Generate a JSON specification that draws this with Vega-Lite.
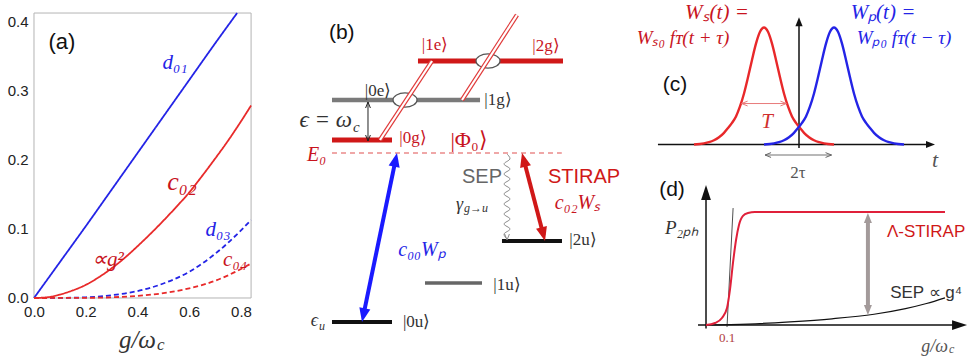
{
  "$schema": "https://vega.github.io/schema/vega-lite/v6.json",
  "width": 973,
  "height": 356,
  "autosize": {"type": "none"},
  "padding": 0,
  "background": "white",
  "config": {"view": {"stroke": null}, "axis": {"grid": false}},
  "resolve": {"scale": {"x": "independent", "y": "independent", "color": "independent", "strokeDash": "independent", "strokeWidth": "independent"}},
  "layer": [
    {
      "encoding": {
        "x": {"field": "g", "type": "quantitative", "scale": {"domain": [-0.1314, 3.629], "zero": false, "nice": false},
          "axis": {"values": [0, 0.2, 0.4, 0.6, 0.8], "format": ".1f", "offset": -58, "domain": false, "ticks": false, "labelPadding": 6, "labelFontSize": 15, "labelFont": "Liberation Sans", "labelColor": "#222", "labelFlush": false, "labelOverlap": false, "title": null}},
        "y": {"field": "v", "type": "quantitative", "scale": {"domain": [-0.08406, 0.43188], "zero": false, "nice": false},
          "axis": {"values": [0, 0.1, 0.2, 0.3, 0.4], "format": ".1f", "offset": -33, "domain": false, "ticks": false, "labelPadding": 5, "labelFontSize": 15, "labelFont": "Liberation Sans", "labelColor": "#222", "labelFlush": false, "labelOverlap": false, "title": null}}
      },
      "layer": [
        {"data": {"values": [{"g": 0, "v": 0, "g2": 0.839, "v2": 0.413}]},
         "mark": {"type": "rect", "fill": "white", "fillOpacity": 0, "stroke": "#b4b4b4", "strokeWidth": 1},
         "encoding": {"x2": {"field": "g2"}, "y2": {"field": "v2"}}},
        {"data": {"values": [
          {"s": "d01", "g": 0, "v": 0}, {"s": "d01", "g": 0.1, "v": 0.052}, {"s": "d01", "g": 0.2, "v": 0.104}, {"s": "d01", "g": 0.3, "v": 0.157}, {"s": "d01", "g": 0.4, "v": 0.21}, {"s": "d01", "g": 0.5, "v": 0.263}, {"s": "d01", "g": 0.6, "v": 0.316}, {"s": "d01", "g": 0.7, "v": 0.369}, {"s": "d01", "g": 0.785, "v": 0.413},
          {"s": "c02", "g": 0, "v": 0}, {"s": "c02", "g": 0.05, "v": 0.001}, {"s": "c02", "g": 0.1, "v": 0.005}, {"s": "c02", "g": 0.15, "v": 0.011}, {"s": "c02", "g": 0.2, "v": 0.019}, {"s": "c02", "g": 0.25, "v": 0.03}, {"s": "c02", "g": 0.3, "v": 0.043}, {"s": "c02", "g": 0.35, "v": 0.058}, {"s": "c02", "g": 0.4, "v": 0.075}, {"s": "c02", "g": 0.45, "v": 0.093}, {"s": "c02", "g": 0.5, "v": 0.112}, {"s": "c02", "g": 0.55, "v": 0.132}, {"s": "c02", "g": 0.6, "v": 0.153}, {"s": "c02", "g": 0.65, "v": 0.177}, {"s": "c02", "g": 0.7, "v": 0.202}, {"s": "c02", "g": 0.75, "v": 0.228}, {"s": "c02", "g": 0.8, "v": 0.256}, {"s": "c02", "g": 0.839, "v": 0.279},
          {"s": "d03", "g": 0, "v": 0}, {"s": "d03", "g": 0.1, "v": 0.0002}, {"s": "d03", "g": 0.2, "v": 0.001}, {"s": "d03", "g": 0.3, "v": 0.004}, {"s": "d03", "g": 0.4, "v": 0.01}, {"s": "d03", "g": 0.5, "v": 0.021}, {"s": "d03", "g": 0.6, "v": 0.038}, {"s": "d03", "g": 0.7, "v": 0.064}, {"s": "d03", "g": 0.8, "v": 0.098}, {"s": "d03", "g": 0.839, "v": 0.113},
          {"s": "c04", "g": 0, "v": 0}, {"s": "c04", "g": 0.2, "v": 0.0002}, {"s": "c04", "g": 0.3, "v": 0.001}, {"s": "c04", "g": 0.4, "v": 0.003}, {"s": "c04", "g": 0.5, "v": 0.007}, {"s": "c04", "g": 0.6, "v": 0.014}, {"s": "c04", "g": 0.7, "v": 0.025}, {"s": "c04", "g": 0.8, "v": 0.042}, {"s": "c04", "g": 0.839, "v": 0.05}
         ]},
         "mark": {"type": "line", "strokeWidth": 1.8, "interpolate": "monotone"},
         "encoding": {
           "color": {"field": "s", "type": "nominal", "scale": {"domain": ["d01", "c02", "d03", "c04"], "range": ["#2424e6", "#e82a2a", "#2424e6", "#e82a2a"]}, "legend": null},
           "strokeDash": {"field": "s", "type": "nominal", "scale": {"domain": ["d01", "c02", "d03", "c04"], "range": [[1, 0], [1, 0], [5, 3], [5, 3]]}, "legend": null}
         }},
        {"data": {"values": [{"g": 0.108, "v": 0.371, "label": "(a)"}]},
         "mark": {"type": "text", "font": "Liberation Sans", "fontSize": 22, "color": "#111", "align": "center", "baseline": "middle"},
         "encoding": {"text": {"field": "label"}}},
        {"data": {"values": [{"g": 0.545, "v": 0.341, "label": "d₀₁"}, {"g": 0.711, "v": 0.099, "label": "d₀₃"}]},
         "mark": {"type": "text", "font": "Liberation Serif", "fontStyle": "italic", "fontSize": 21, "color": "#2424e6", "align": "center", "baseline": "middle"},
         "encoding": {"text": {"field": "label"}}},
        {"data": {"values": [{"g": 0.572, "v": 0.168, "label": "c₀₂"}]},
         "mark": {"type": "text", "font": "Liberation Serif", "fontStyle": "italic", "fontSize": 26, "color": "#c8141e", "align": "center", "baseline": "middle"},
         "encoding": {"text": {"field": "label"}}},
        {"data": {"values": [{"g": 0.286, "v": 0.055, "label": "∝g²"}, {"g": 0.777, "v": 0.055, "label": "c₀₄"}]},
         "mark": {"type": "text", "font": "Liberation Serif", "fontStyle": "italic", "fontSize": 21, "color": "#c8141e", "align": "center", "baseline": "middle"},
         "encoding": {"text": {"field": "label"}}},
        {"data": {"values": [{"g": 0.4715, "v": -0.0609, "label": "g/ω"}]},
         "mark": {"type": "text", "font": "Liberation Serif", "fontStyle": "italic", "fontSize": 25, "color": "#333", "align": "right", "baseline": "middle"},
         "encoding": {"text": {"field": "label"}}},
        {"data": {"values": [{"g": 0.4754, "v": -0.0681, "label": "c"}]},
         "mark": {"type": "text", "font": "Liberation Serif", "fontStyle": "italic", "fontSize": 17, "color": "#333", "align": "left", "baseline": "middle"},
         "encoding": {"text": {"field": "label"}}}
      ]
    },
    {
      "encoding": {
        "x": {"field": "xb", "type": "quantitative", "scale": {"domain": [-5.5333, 10.6833], "zero": false, "nice": false}, "axis": null},
        "y": {"field": "yb", "type": "quantitative", "scale": {"domain": [-0.85, 8.05], "zero": false, "nice": false}, "axis": null}
      },
      "layer": [
        {"data": {"values": [
          {"xb": 0, "xb2": 1, "yb": 0, "k": "black"},
          {"xb": 1.55, "xb2": 2.5, "yb": 0.975, "k": "thin"},
          {"xb": 2.833, "xb2": 3.833, "yb": 2.025, "k": "black"},
          {"xb": 0, "xb2": 1, "yb": 4.55, "k": "red"},
          {"xb": 0, "xb2": 2.467, "yb": 5.55, "k": "gray"},
          {"xb": 1.433, "xb2": 3.85, "yb": 6.525, "k": "red"}
         ]},
         "mark": {"type": "rule"},
         "encoding": {
           "x2": {"field": "xb2"},
           "color": {"field": "k", "type": "nominal", "scale": {"domain": ["red", "gray", "black", "thin"], "range": ["#d01818", "#7a7a7a", "#111111", "#666666"]}, "legend": null},
           "strokeWidth": {"field": "k", "type": "nominal", "scale": {"domain": ["red", "gray", "black", "thin"], "range": [5, 3.5, 4, 2]}, "legend": null}
         }},
        {"data": {"values": [{"xb": 0, "xb2": 3.83, "yb": 4.225}]},
         "mark": {"type": "rule", "color": "#e05050", "strokeWidth": 1.2, "strokeDash": [5, 4]},
         "encoding": {"x2": {"field": "xb2"}}},
        {"data": {"values": [{"xb": 1.217, "yb": 5.55}, {"xb": 2.6, "yb": 6.525}]},
         "mark": {"type": "point", "shape": "M-1,0A1,0.6 0 1,1 1,0A1,0.6 0 1,1 -1,0Z", "filled": true, "fill": "white", "stroke": "#555", "strokeWidth": 1.2, "size": 576, "opacity": 1},
         "encoding": {}},
        {"data": {"values": [{"xb": 0.8, "yb": 4.55, "xb2": 1.667, "yb2": 6.525}, {"xb": 2.167, "yb": 5.55, "xb2": 3.083, "yb2": 7.675}]},
         "mark": {"type": "rule", "color": "#e03a3a", "strokeWidth": 4.5},
         "encoding": {"x2": {"field": "xb2"}, "y2": {"field": "yb2"}}},
        {"data": {"values": [{"xb": 0.8, "yb": 4.55, "xb2": 1.667, "yb2": 6.525}, {"xb": 2.167, "yb": 5.55, "xb2": 3.083, "yb2": 7.675}]},
         "mark": {"type": "rule", "color": "white", "strokeWidth": 2.2},
         "encoding": {"x2": {"field": "xb2"}, "y2": {"field": "yb2"}}},
        {"data": {"values": [{"xb": 1.063, "yb": 4.077, "xb2": 0.52, "yb2": 0.148}]},
         "mark": {"type": "rule", "color": "#1a1aff", "strokeWidth": 4},
         "encoding": {"x2": {"field": "xb2"}, "y2": {"field": "yb2"}}},
        {"data": {"values": [{"xb": 1.083, "yb": 4.225, "dir": 11.7}, {"xb": 0.5, "yb": 0, "dir": 191.7}]},
         "mark": {"type": "point", "shape": "M0,0L0.8,2L-0.8,2Z", "filled": true, "size": 196, "color": "#1a1aff", "opacity": 1},
         "encoding": {"angle": {"field": "dir", "type": "quantitative", "scale": null}}},
        {"data": {"values": [{"xb": 3.192, "yb": 4.08, "xb2": 3.525, "yb2": 2.17}]},
         "mark": {"type": "rule", "color": "#d01818", "strokeWidth": 4},
         "encoding": {"x2": {"field": "xb2"}, "y2": {"field": "yb2"}}},
        {"data": {"values": [{"xb": 3.167, "yb": 4.225, "dir": 345.4}, {"xb": 3.55, "yb": 2.025, "dir": 165.4}]},
         "mark": {"type": "point", "shape": "M0,0L0.8,2L-0.8,2Z", "filled": true, "size": 196, "color": "#d01818", "opacity": 1},
         "encoding": {"angle": {"field": "dir", "type": "quantitative", "scale": null}}},
        {"data": {"values": [{"xb": 0.6, "yb": 5.5, "yb2": 4.525}]},
         "mark": {"type": "rule", "color": "#222", "strokeWidth": 1},
         "encoding": {"y2": {"field": "yb2"}}},
        {"data": {"values": [{"xb": 0.6, "yb": 5.5, "dir": 0}, {"xb": 0.6, "yb": 4.525, "dir": 180}]},
         "mark": {"type": "point", "shape": "M-0.8,2L0,0L0.8,2", "filled": false, "size": 36, "color": "#222", "strokeWidth": 1, "opacity": 1},
         "encoding": {"angle": {"field": "dir", "type": "quantitative", "scale": null}}},
        {"data": {"values": [
          {"i": 0, "xb": 2.917, "yb": 4.2}, {"i": 1, "xb": 2.967, "yb": 4.075}, {"i": 2, "xb": 2.867, "yb": 3.95}, {"i": 3, "xb": 2.967, "yb": 3.825}, {"i": 4, "xb": 2.867, "yb": 3.7}, {"i": 5, "xb": 2.967, "yb": 3.575}, {"i": 6, "xb": 2.867, "yb": 3.45}, {"i": 7, "xb": 2.967, "yb": 3.325}, {"i": 8, "xb": 2.867, "yb": 3.2}, {"i": 9, "xb": 2.967, "yb": 3.075}, {"i": 10, "xb": 2.867, "yb": 2.95}, {"i": 11, "xb": 2.967, "yb": 2.825}, {"i": 12, "xb": 2.867, "yb": 2.7}, {"i": 13, "xb": 2.967, "yb": 2.575}, {"i": 14, "xb": 2.867, "yb": 2.45}, {"i": 15, "xb": 2.967, "yb": 2.325}, {"i": 16, "xb": 2.867, "yb": 2.2}, {"i": 17, "xb": 2.917, "yb": 2.075}
         ]},
         "mark": {"type": "line", "color": "#8a8a8a", "strokeWidth": 1, "interpolate": "cardinal"},
         "encoding": {"order": {"field": "i", "type": "quantitative"}}},
        {"data": {"values": [{"xb": 2.917, "yb": 2.05, "dir": 180}]},
         "mark": {"type": "point", "shape": "M-0.8,2L0,0L0.8,2", "filled": false, "size": 36, "color": "#8a8a8a", "strokeWidth": 1, "opacity": 1},
         "encoding": {"angle": {"field": "dir", "type": "quantitative", "scale": null}}},
        {"data": {"values": [{"xb": 0.162, "yb": 7.217, "label": "(b)"}]},
         "mark": {"type": "text", "font": "Liberation Sans", "fontSize": 21, "color": "#111", "align": "center", "baseline": "middle"},
         "encoding": {"text": {"field": "label"}}},
        {"data": {"values": [{"xb": 1.717, "yb": 6.925, "label": "|1e⟩"}, {"xb": 3.567, "yb": 6.9, "label": "|2g⟩"}, {"xb": 1.35, "yb": 4.6, "label": "|0g⟩"}]},
         "mark": {"type": "text", "font": "Liberation Serif", "fontSize": 17, "color": "#c8141e", "align": "center", "baseline": "middle"},
         "encoding": {"text": {"field": "label"}}},
        {"data": {"values": [{"xb": 2.283, "yb": 4.55, "label": "|Φ₀⟩"}]},
         "mark": {"type": "text", "font": "Liberation Serif", "fontSize": 22, "color": "#c8141e", "align": "center", "baseline": "middle"},
         "encoding": {"text": {"field": "label"}}},
        {"data": {"values": [{"xb": 0.767, "yb": 5.775, "label": "|0e⟩"}, {"xb": 2.767, "yb": 5.55, "label": "|1g⟩"}, {"xb": 1.411, "yb": 0, "label": "|0u⟩"}, {"xb": 2.917, "yb": 0.925, "label": "|1u⟩"}, {"xb": 4.183, "yb": 2.05, "label": "|2u⟩"}]},
         "mark": {"type": "text", "font": "Liberation Serif", "fontSize": 17, "color": "#333", "align": "center", "baseline": "middle"},
         "encoding": {"text": {"field": "label"}}},
        {"data": {"values": [{"xb": -0.255, "yb": 4.175, "label": "E₀"}, {"xb": 4.092, "yb": 2.967, "label": "c₀₂Wₛ"}]},
         "mark": {"type": "text", "font": "Liberation Serif", "fontStyle": "italic", "fontSize": 20, "color": "#c8141e", "align": "center", "baseline": "middle"},
         "encoding": {"text": {"field": "label"}}},
        {"data": {"values": [{"xb": 0.333, "yb": 5.05, "label": "ϵ = ω"}]},
         "mark": {"type": "text", "font": "Liberation Serif", "fontStyle": "italic", "fontSize": 23, "color": "#333", "align": "right", "baseline": "middle"},
         "encoding": {"text": {"field": "label"}}},
        {"data": {"values": [{"xb": -0.233, "yb": 0.02, "label": "ϵ"}, {"xb": 2.183, "yb": 2.925, "label": "γ"}]},
         "mark": {"type": "text", "font": "Liberation Serif", "fontStyle": "italic", "fontSize": 18, "color": "#333", "align": "right", "baseline": "middle"},
         "encoding": {"text": {"field": "label"}}},
        {"data": {"values": [{"xb": 0.35, "yb": 4.875, "label": "c"}]},
         "mark": {"type": "text", "font": "Liberation Serif", "fontStyle": "italic", "fontSize": 15, "color": "#333", "align": "left", "baseline": "middle"},
         "encoding": {"text": {"field": "label"}}},
        {"data": {"values": [{"xb": -0.217, "yb": -0.1, "label": "u"}, {"xb": 2.2, "yb": 2.85, "label": "g→u"}]},
         "mark": {"type": "text", "font": "Liberation Serif", "fontStyle": "italic", "fontSize": 12, "color": "#333", "align": "left", "baseline": "middle"},
         "encoding": {"text": {"field": "label"}}},
        {"data": {"values": [{"xb": 2.5, "yb": 3.633, "label": "SEP"}]},
         "mark": {"type": "text", "font": "Liberation Sans", "fontSize": 20, "color": "#666", "align": "center", "baseline": "middle"},
         "encoding": {"text": {"field": "label"}}},
        {"data": {"values": [{"xb": 4.2, "yb": 3.633, "label": "STIRAP"}]},
         "mark": {"type": "text", "font": "Liberation Sans", "fontSize": 20, "color": "#d01818", "align": "center", "baseline": "middle"},
         "encoding": {"text": {"field": "label"}}},
        {"data": {"values": [{"xb": 1.5, "yb": 1.8, "label": "c₀₀Wₚ"}]},
         "mark": {"type": "text", "font": "Liberation Serif", "fontStyle": "italic", "fontSize": 20, "color": "#2424e6", "align": "center", "baseline": "middle"},
         "encoding": {"text": {"field": "label"}}}
      ]
    },
    {
      "encoding": {
        "x": {"field": "t", "type": "quantitative", "scale": {"domain": [-22.8286, 4.9714], "zero": false, "nice": false}, "axis": null},
        "y": {"field": "v", "type": "quantitative", "scale": {"domain": [-1.8077, 1.235], "zero": false, "nice": false}, "axis": null}
      },
      "layer": [
        {"data": {"values": [{"t": -4.03, "t2": 3.75, "v": 0, "v2": 0}, {"t": 0, "t2": 0, "v": -0.03, "v2": 1.05}]},
         "mark": {"type": "rule", "color": "#111", "strokeWidth": 1.5},
         "encoding": {"x2": {"field": "t2"}, "y2": {"field": "v2"}}},
        {"data": {"values": [{"t": 3.886, "v": 0, "dir": 90}, {"t": 0, "v": 1.087, "dir": 0}]},
         "mark": {"type": "point", "shape": "M0,0L0.8,2L-0.8,2Z", "filled": true, "size": 81, "color": "#111", "opacity": 1},
         "encoding": {"angle": {"field": "dir", "type": "quantitative", "scale": null}}},
        {"data": {"values": [
          {"s": "r", "t": -3.0, "v": 0}, {"s": "r", "t": -2.714, "v": 0.01}, {"s": "r", "t": -2.571, "v": 0.02}, {"s": "r", "t": -2.429, "v": 0.036}, {"s": "r", "t": -2.286, "v": 0.062}, {"s": "r", "t": -2.143, "v": 0.1}, {"s": "r", "t": -2.029, "v": 0.14}, {"s": "r", "t": -1.914, "v": 0.185}, {"s": "r", "t": -1.8, "v": 0.24}, {"s": "r", "t": -1.686, "v": 0.325}, {"s": "r", "t": -1.571, "v": 0.436}, {"s": "r", "t": -1.457, "v": 0.574}, {"s": "r", "t": -1.343, "v": 0.723}, {"s": "r", "t": -1.229, "v": 0.862}, {"s": "r", "t": -1.114, "v": 0.963}, {"s": "r", "t": -1.0, "v": 1.0}, {"s": "r", "t": -0.886, "v": 0.963}, {"s": "r", "t": -0.771, "v": 0.862}, {"s": "r", "t": -0.657, "v": 0.723}, {"s": "r", "t": -0.543, "v": 0.574}, {"s": "r", "t": -0.429, "v": 0.436}, {"s": "r", "t": -0.314, "v": 0.325}, {"s": "r", "t": -0.2, "v": 0.24}, {"s": "r", "t": -0.086, "v": 0.185}, {"s": "r", "t": 0.029, "v": 0.14}, {"s": "r", "t": 0.143, "v": 0.1}, {"s": "r", "t": 0.286, "v": 0.062}, {"s": "r", "t": 0.429, "v": 0.036}, {"s": "r", "t": 0.571, "v": 0.02}, {"s": "r", "t": 0.714, "v": 0.01}, {"s": "r", "t": 1.0, "v": 0},
          {"s": "b", "t": -1.0, "v": 0}, {"s": "b", "t": -0.714, "v": 0.01}, {"s": "b", "t": -0.571, "v": 0.02}, {"s": "b", "t": -0.429, "v": 0.036}, {"s": "b", "t": -0.286, "v": 0.062}, {"s": "b", "t": -0.143, "v": 0.1}, {"s": "b", "t": -0.029, "v": 0.14}, {"s": "b", "t": 0.086, "v": 0.185}, {"s": "b", "t": 0.2, "v": 0.24}, {"s": "b", "t": 0.314, "v": 0.325}, {"s": "b", "t": 0.429, "v": 0.436}, {"s": "b", "t": 0.543, "v": 0.574}, {"s": "b", "t": 0.657, "v": 0.723}, {"s": "b", "t": 0.771, "v": 0.862}, {"s": "b", "t": 0.886, "v": 0.963}, {"s": "b", "t": 1.0, "v": 1.0}, {"s": "b", "t": 1.114, "v": 0.963}, {"s": "b", "t": 1.229, "v": 0.862}, {"s": "b", "t": 1.343, "v": 0.723}, {"s": "b", "t": 1.457, "v": 0.574}, {"s": "b", "t": 1.571, "v": 0.436}, {"s": "b", "t": 1.686, "v": 0.325}, {"s": "b", "t": 1.8, "v": 0.24}, {"s": "b", "t": 1.914, "v": 0.185}, {"s": "b", "t": 2.029, "v": 0.14}, {"s": "b", "t": 2.143, "v": 0.1}, {"s": "b", "t": 2.286, "v": 0.062}, {"s": "b", "t": 2.429, "v": 0.036}, {"s": "b", "t": 2.571, "v": 0.02}, {"s": "b", "t": 2.714, "v": 0.01}, {"s": "b", "t": 3.0, "v": 0}
         ]},
         "mark": {"type": "line", "strokeWidth": 2.4, "interpolate": "monotone"},
         "encoding": {"color": {"field": "s", "type": "nominal", "scale": {"domain": ["r", "b"], "range": ["#e8282a", "#2424e6"]}, "legend": null}}},
        {"data": {"values": [{"t": -1.64, "t2": -0.36, "v": 0.35}]},
         "mark": {"type": "rule", "color": "#e87a7a", "strokeWidth": 1},
         "encoding": {"x2": {"field": "t2"}}},
        {"data": {"values": [{"t": -1.64, "v": 0.35, "dir": 270}, {"t": -0.36, "v": 0.35, "dir": 90}]},
         "mark": {"type": "point", "shape": "M-0.8,2L0,0L0.8,2", "filled": false, "size": 36, "color": "#e87a7a", "strokeWidth": 1, "opacity": 1},
         "encoding": {"angle": {"field": "dir", "type": "quantitative", "scale": null}}},
        {"data": {"values": [{"t": -0.97, "t2": 0.93, "v": -0.09}]},
         "mark": {"type": "rule", "color": "#b8b8b8", "strokeWidth": 2},
         "encoding": {"x2": {"field": "t2"}}},
        {"data": {"values": [{"t": -0.97, "v": -0.09, "dir": 270}, {"t": 0.93, "v": -0.09, "dir": 90}]},
         "mark": {"type": "point", "shape": "M-0.8,2L0,0L0.8,2", "filled": false, "size": 36, "color": "#666", "strokeWidth": 1, "opacity": 1},
         "encoding": {"angle": {"field": "dir", "type": "quantitative", "scale": null}}},
        {"data": {"values": [{"t": -2.343, "v": 1.124, "label": "Wₛ(t) ="}]},
         "mark": {"type": "text", "font": "Liberation Serif", "fontStyle": "italic", "fontSize": 21, "color": "#c8141e", "align": "center", "baseline": "middle"},
         "encoding": {"text": {"field": "label"}}},
        {"data": {"values": [{"t": -3.314, "v": 0.91, "label": "Wₛ₀ fᴛ(t + τ)"}]},
         "mark": {"type": "text", "font": "Liberation Serif", "fontStyle": "italic", "fontSize": 19, "color": "#c8141e", "align": "center", "baseline": "middle"},
         "encoding": {"text": {"field": "label"}}},
        {"data": {"values": [{"t": 2.4, "v": 1.124, "label": "Wₚ(t) ="}]},
         "mark": {"type": "text", "font": "Liberation Serif", "fontStyle": "italic", "fontSize": 21, "color": "#2424e6", "align": "center", "baseline": "middle"},
         "encoding": {"text": {"field": "label"}}},
        {"data": {"values": [{"t": 3.0, "v": 0.91, "label": "Wₚ₀ fᴛ(t − τ)"}]},
         "mark": {"type": "text", "font": "Liberation Serif", "fontStyle": "italic", "fontSize": 19, "color": "#2424e6", "align": "center", "baseline": "middle"},
         "encoding": {"text": {"field": "label"}}},
        {"data": {"values": [{"t": -3.543, "v": 0.509, "label": "(c)"}]},
         "mark": {"type": "text", "font": "Liberation Sans", "fontSize": 21, "color": "#111", "align": "center", "baseline": "middle"},
         "encoding": {"text": {"field": "label"}}},
        {"data": {"values": [{"t": -0.914, "v": 0.192, "label": "T"}]},
         "mark": {"type": "text", "font": "Liberation Serif", "fontStyle": "italic", "fontSize": 21, "color": "#d03030", "align": "center", "baseline": "middle"},
         "encoding": {"text": {"field": "label"}}},
        {"data": {"values": [{"t": -0.029, "v": -0.244, "label": "2τ"}]},
         "mark": {"type": "text", "font": "Liberation Serif", "fontSize": 17, "color": "#555", "align": "center", "baseline": "middle"},
         "encoding": {"text": {"field": "label"}}},
        {"data": {"values": [{"t": 3.886, "v": -0.132, "label": "t"}]},
         "mark": {"type": "text", "font": "Liberation Serif", "fontStyle": "italic", "fontSize": 22, "color": "#555", "align": "center", "baseline": "middle"},
         "encoding": {"text": {"field": "label"}}}
      ]
    },
    {
      "encoding": {
        "x": {"field": "gd", "type": "quantitative", "scale": {"domain": [-3.3619, 1.2714], "zero": false, "nice": false}, "axis": null},
        "y": {"field": "pd", "type": "quantitative", "scale": {"domain": [-0.2743, 2.8761], "zero": false, "nice": false}, "axis": null}
      },
      "layer": [
        {"data": {"values": [{"gd": -0.038, "gd2": 1.22, "pd": 0, "pd2": 0}, {"gd": 0, "gd2": 0, "pd": -0.03, "pd2": 1.2}]},
         "mark": {"type": "rule", "color": "#111", "strokeWidth": 1.5},
         "encoding": {"x2": {"field": "gd2"}, "y2": {"field": "pd2"}}},
        {"data": {"values": [{"gd": 1.243, "pd": 0, "dir": 90}, {"gd": 0, "pd": 1.239, "dir": 0}]},
         "mark": {"type": "point", "shape": "M0,0L0.65,2L-0.65,2Z", "filled": true, "size": 225, "color": "#111", "opacity": 1},
         "encoding": {"angle": {"field": "dir", "type": "quantitative", "scale": null}}},
        {"data": {"values": [{"gd": 0.1, "pd": -0.018, "gd2": 0.129, "pd2": 1.035}]},
         "mark": {"type": "rule", "color": "#222", "strokeWidth": 0.8},
         "encoding": {"x2": {"field": "gd2"}, "y2": {"field": "pd2"}}},
        {"data": {"values": [{"gd": 0, "pd": 0}, {"gd": 0.2, "pd": 0.008}, {"gd": 0.4, "pd": 0.028}, {"gd": 0.6, "pd": 0.055}, {"gd": 0.8, "pd": 0.095}, {"gd": 0.95, "pd": 0.145}, {"gd": 1.05, "pd": 0.19}, {"gd": 1.138, "pd": 0.24}]},
         "mark": {"type": "line", "color": "#111", "strokeWidth": 1.2, "interpolate": "monotone"},
         "encoding": {}},
        {"data": {"values": [{"gd": 0, "pd": 0}, {"gd": 0.043, "pd": 0.018}, {"gd": 0.076, "pd": 0.062}, {"gd": 0.1, "pd": 0.15}, {"gd": 0.114, "pd": 0.31}, {"gd": 0.129, "pd": 0.558}, {"gd": 0.143, "pd": 0.752}, {"gd": 0.157, "pd": 0.885}, {"gd": 0.176, "pd": 0.965}, {"gd": 0.2, "pd": 0.991}, {"gd": 0.233, "pd": 1.0}, {"gd": 1.138, "pd": 1.0}]},
         "mark": {"type": "line", "color": "#e0203a", "strokeWidth": 2, "interpolate": "monotone"},
         "encoding": {}},
        {"data": {"values": [{"gd": 0.771, "pd": 0.93, "pd2": 0.15}]},
         "mark": {"type": "rule", "color": "#a39a9a", "strokeWidth": 4},
         "encoding": {"y2": {"field": "pd2"}}},
        {"data": {"values": [{"gd": 0.771, "pd": 0.991, "dir": 0}, {"gd": 0.771, "pd": 0.088, "dir": 180}]},
         "mark": {"type": "point", "shape": "M0,0L0.8,2L-0.8,2Z", "filled": true, "size": 100, "color": "#a39a9a", "opacity": 1},
         "encoding": {"angle": {"field": "dir", "type": "quantitative", "scale": null}}},
        {"data": {"values": [{"gd": -0.162, "pd": 1.195, "label": "(d)"}]},
         "mark": {"type": "text", "font": "Liberation Sans", "fontSize": 21, "color": "#111", "align": "center", "baseline": "middle"},
         "encoding": {"text": {"field": "label"}}},
        {"data": {"values": [{"gd": -0.114, "pd": 0.858, "label": "P₂ₚₕ"}]},
         "mark": {"type": "text", "font": "Liberation Serif", "fontStyle": "italic", "fontSize": 19, "color": "#333", "align": "center", "baseline": "middle"},
         "encoding": {"text": {"field": "label"}}},
        {"data": {"values": [{"gd": 1.048, "pd": 0.826, "label": "Λ-STIRAP"}]},
         "mark": {"type": "text", "font": "Liberation Sans", "fontSize": 17, "color": "#d01818", "align": "center", "baseline": "middle"},
         "encoding": {"text": {"field": "label"}}},
        {"data": {"values": [{"gd": 1.048, "pd": 0.28, "label": "SEP ∝ g⁴"}]},
         "mark": {"type": "text", "font": "Liberation Sans", "fontSize": 17, "color": "#333", "align": "center", "baseline": "middle"},
         "encoding": {"text": {"field": "label"}}},
        {"data": {"values": [{"gd": 0.101, "pd": -0.118, "label": "0.1"}]},
         "mark": {"type": "text", "font": "Liberation Serif", "fontSize": 13, "color": "#b04040", "align": "center", "baseline": "middle"},
         "encoding": {"text": {"field": "label"}}},
        {"data": {"values": [{"gd": 1.1524, "pd": -0.1947, "label": "g/ω"}]},
         "mark": {"type": "text", "font": "Liberation Serif", "fontStyle": "italic", "fontSize": 18, "color": "#555", "align": "right", "baseline": "middle"},
         "encoding": {"text": {"field": "label"}}},
        {"data": {"values": [{"gd": 1.157, "pd": -0.212, "label": "c"}]},
         "mark": {"type": "text", "font": "Liberation Serif", "fontStyle": "italic", "fontSize": 12, "color": "#555", "align": "left", "baseline": "middle"},
         "encoding": {"text": {"field": "label"}}}
      ]
    }
  ]
}
